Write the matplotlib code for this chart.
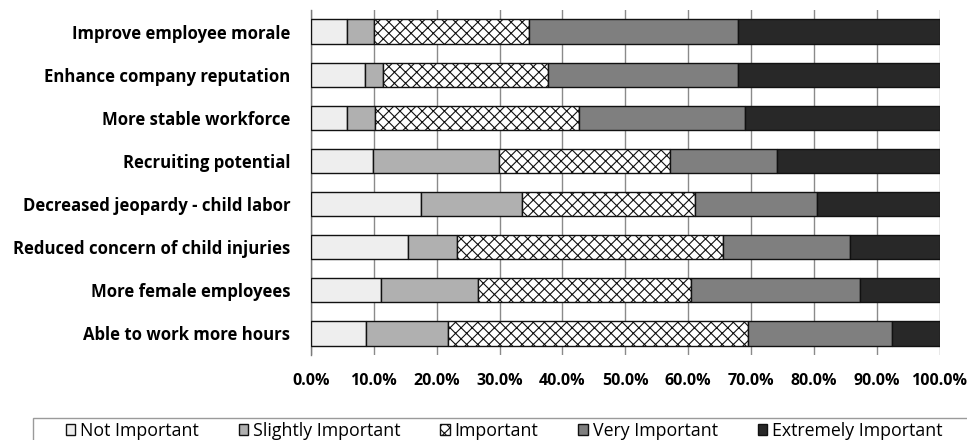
import matplotlib
matplotlib.use("Agg")
import matplotlib.pyplot as plt
from matplotlib.patches import Rectangle
import numpy as np

plt.rcParams["font.family"] = ["Open Sans", "DejaVu Sans"]
plt.rcParams["hatch.linewidth"] = 0.8
plt.rcParams["hatch.color"] = "#2a2a2a"

# Survey items (top to bottom)
categories = [
    "Improve employee morale",
    "Enhance company reputation",
    "More stable workforce",
    "Recruiting potential",
    "Decreased jeopardy - child labor",
    "Reduced concern of child injuries",
    "More female employees",
    "Able to work more hours",
]

# Share of responses per rating (%)
not_important = [5.7, 8.6, 5.8, 9.8, 17.5, 15.5, 11.2, 8.7]
slightly_important = [4.3, 2.8, 4.4, 20.1, 16.1, 7.8, 15.4, 13.1]
important = [24.7, 26.3, 32.4, 27.2, 27.5, 42.2, 33.9, 47.7]
very_important = [33.3, 30.3, 26.4, 17.0, 19.4, 20.3, 26.8, 23.0]
extremely_important = [32.0, 32.0, 31.0, 25.9, 19.5, 14.2, 12.7, 7.5]

series_names = ["Not Important", "Slightly Important", "Important",
                "Very Important", "Extremely Important"]
x_ticks = [0, 10, 20, 30, 40, 50, 60, 70, 80, 90, 100]
x_tick_labels = [f"{v:.1f}%" for v in x_ticks]

series = [not_important, slightly_important, important,
          very_important, extremely_important]
colors = ["#eeeeee", "#b0b0b0", "white", "#7f7f7f", "#282828"]
hatches = [None, None, "xxx", None, None]

fig = plt.figure(figsize=(9.67, 4.40), dpi=100)
ax = fig.add_axes([311 / 967, 85 / 440, 628.5 / 967, 345 / 440])

y = np.arange(len(categories))
left = np.zeros(len(categories))
handles = []
for name, vals, col, h in zip(series_names, series, colors, hatches):
    vals = np.array(vals)
    bars = ax.barh(y, vals, left=left, height=0.56, color=col,
                   edgecolor="#111111", linewidth=1.0, hatch=h,
                   label=name, zorder=3)
    handles.append(bars)
    left += vals

ax.set_xlim(0, 100)
ax.set_ylim(len(categories) - 0.5, -0.5)
ax.set_xticks(x_ticks)
ax.set_xticklabels(x_tick_labels, fontsize=11.5, fontweight="bold")
ax.set_yticks(y)
ax.set_yticklabels(categories, fontsize=12.1, fontweight="bold")
ax.tick_params(axis="x", length=0, pad=13)
ax.tick_params(axis="y", length=0, pad=15)
ax.grid(axis="x", color="#8a8a8a", linewidth=1.0, zorder=0)
ax.set_axisbelow(True)
for s in ["top", "right", "bottom"]:
    ax.spines[s].set_visible(False)
ax.spines["left"].set_color("#7a7a7a")
ax.spines["left"].set_linewidth(1.0)

# Legend box across the bottom of the figure
fig.patches.append(Rectangle((33 / 967, -0.05), 1.0, (440 - 418) / 440 + 0.05,
                             transform=fig.transFigure, facecolor="white",
                             edgecolor="#9a9a9a", linewidth=1.0))
fig.legend(handles=handles, labels=series_names, loc="center",
           bbox_to_anchor=(504 / 967, 1 - 431 / 440), ncol=5, frameon=False,
           fontsize=12.8, handlelength=0.55, handleheight=0.6,
           handletextpad=0.25, columnspacing=2.25, borderpad=0)

fig.savefig("out.png", dpi=100)
